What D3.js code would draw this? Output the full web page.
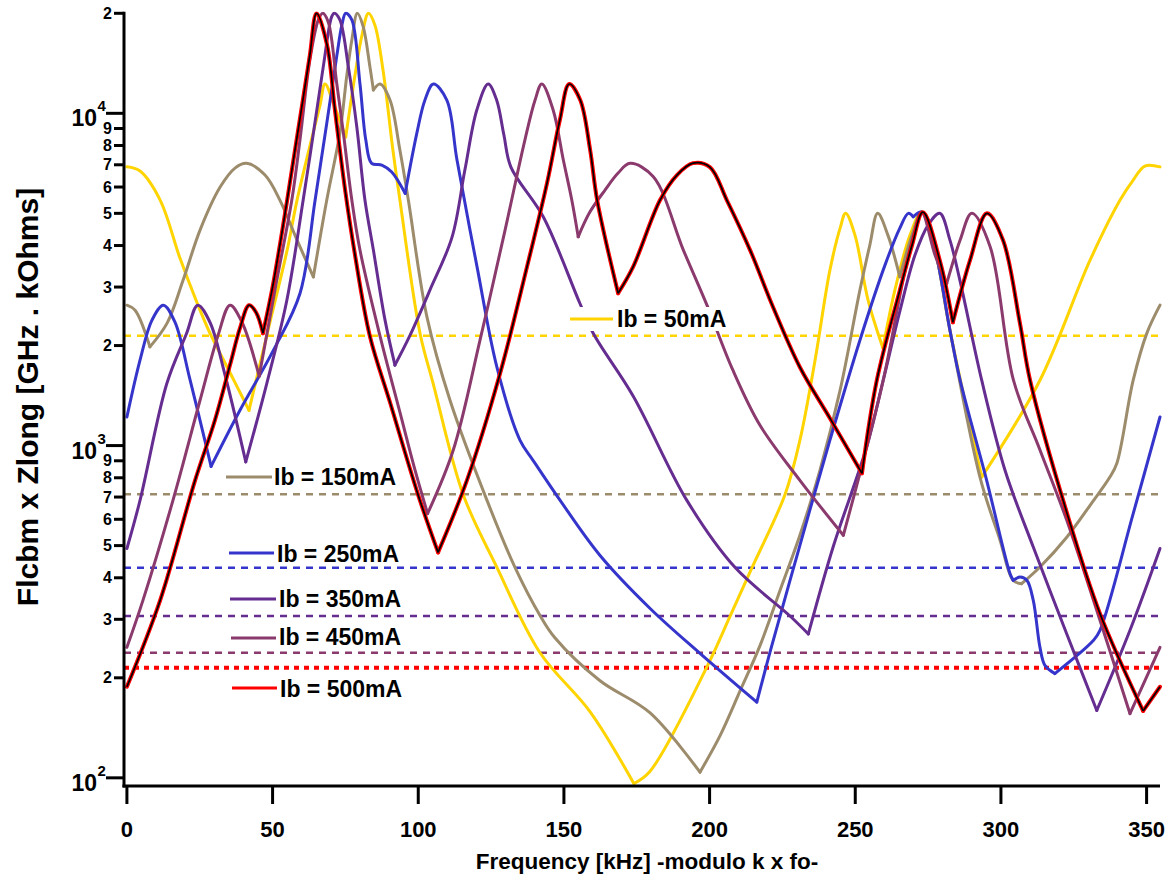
<!DOCTYPE html>
<html><head><meta charset="utf-8">
<script src="https://cdn.jsdelivr.net/npm/d3@7"></script>
<style>
body{margin:0;background:#fff}
text{font-family:Arial,"Liberation Sans",Helvetica,sans-serif;font-weight:bold;fill:#000}
</style>
</head><body>
<svg id="c" width="1171" height="882"></svg>
<script>
// ---------------- data ----------------
const seriesNames  = ["Ib = 50mA","Ib = 150mA","Ib = 250mA","Ib = 350mA","Ib = 450mA","Ib = 500mA"];
const seriesColors = ["#FFD400","#9C8C6C","#3535CC","#662D91","#8B3A6E","#FF0000"];
const thresholds   = [2140, 714, 429, 307, 238, 214.5];
const xTicks = [0,50,100,150,200,250,300,350];
const yTicks = [100,200,300,400,500,600,700,800,900,1000,2000,3000,4000,5000,6000,7000,8000,9000,10000,20000];

// [kHz, GHz.kOhms]
const ib50 = [[0,6900],[4.5,6703],[11.4,5482],[18.2,3667],[24.0,2701],[28.5,2179],[35.4,1657],[41.9,1277],
 [49.1,2351],[55.0,3876],[58.4,5482],[63.9,8723],[66.3,10593],[68.0,12250],[71.1,10593],[75.1,8485],
 [78.3,13040],[80.7,17210],[82.9,20000],[85.1,18450],[87.9,13500],[91.3,7757],[93.7,5482],[100.6,2179],
 [105.1,1540],[115.4,713],[127.0,430],[141.8,238],[159.0,158],[174.0,96.1],[179.5,104.5],[199.0,215],
 [207.0,306],[214.6,430],[225.9,713],[231.0,1038],[236.2,1807],[241.3,3373],[244.8,4513],[246.7,5007],
 [249.9,4300],[254.4,2739],[259.5,1964],[263.6,2936],[268.8,4300],[272.8,5043],[277.4,3876],[282.5,2225],
 [293.4,804],[313.4,1573],[330.6,3614],[340.9,5482],[345.4,6298],[349.4,6939],[354.6,6900]];
const ib150 = [[0,2646],[2.8,2556],[7.9,1982],[13.8,2336],[19.3,3148],[25.1,4452],[32.0,5998],[37.1,6841],
 [41.1,7070],[47.4,6520],[52.5,5482],[58.4,4154],[64.0,3219],[68.6,5482],[73.1,8723],[75.5,13040],
 [77.2,16630],[79.1,20000],[81.1,18230],[83.4,13820],[84.6,11755],[86.9,12250],[90.3,10966],[93.7,7757],
 [96.6,5482],[103.0,2435],[110.9,1369],[123.6,684],[133.2,430],[141.8,308],[146.9,264],[162.4,196],
 [179.5,157],[196.7,104],[203.6,134],[210.5,183],[217.3,250],[224.2,367],[231.0,537],[237.9,843],
 [244.8,1468],[251.6,2936],[255.0,4012],[257.7,5000],[261.2,4300],[265.3,3219],[269.5,4300],[272.8,5043],
 [277.4,3876],[282.5,2225],[292.8,804],[299.7,519],[304.2,393],[307.1,384],[313.4,431],[322.6,530],
 [330.6,661],[337.4,804],[339.8,885],[345.4,1573],[350.1,2180],[354.6,2646]];
const ib250 = [[0,1219],[4.5,1807],[8.6,2385],[12.5,2646],[16.5,2351],[21.7,1573],[28.9,866],[38.8,1277],
 [50.3,1937],[59.4,2869],[64.6,5482],[68.6,9330],[72.0,14810],[73.8,18450],[75.1,20000],[77.2,19100],
 [80.0,12250],[82.0,8309],[84.0,7070],[87.5,6988],[90.9,6657],[95.5,5741],[99.5,8706],[102.3,10966],
 [105.2,12250],[109.8,10966],[113.3,7233],[120.2,3444],[127.0,1721],[134.9,1038],[139.4,903],[148.7,684],
 [162.4,467],[179.5,324],[196.7,237],[216.2,169],[220.9,242],[231.0,501],[241.3,1038],[251.6,2076],
 [260.2,3492],[265.3,4513],[268.2,5000],[269.9,4883],[272.8,5043],[277.4,3876],[282.5,2225],[286.0,1573],
 [295.1,786],[303.1,412],[304.2,393],[306.6,402],[308.9,393],[311.1,342],[313.4,247],[315.1,218],
 [318.5,206],[331.7,259],[334.0,278],[345.4,624],[354.6,1219]];
const ib350 = [[0,490],[4.5,684],[13.7,1537],[20.5,2179],[24.3,2646],[28.5,2351],[33.7,1628],[40.8,893],
 [48.0,1537],[54.9,2739],[60.5,5482],[64.0,8706],[67.4,13820],[70.3,19540],[71.2,20000],[73.1,19100],
 [76.0,13820],[78.9,9112],[81.7,5482],[84.6,3876],[88.6,2385],[92.0,1746],[97.2,2149],[104.0,2936],
 [111.6,4241],[116.0,6749],[120.1,10232],[124.0,12250],[126.9,10966],[129.4,8603],[131.8,6891],
 [142.9,4883],[155.5,2677],[160.1,2174],[173.8,1408],[192.2,684],[208.7,430],[227.6,307],[233.9,271],
 [242.4,495],[253.9,990],[259.6,1573],[265.4,2556],[270.5,3743],[275.0,4609],[279.0,5000],[282.5,4154],
 [285.9,3148],[293.4,1573],[301.4,843],[311.1,495],[322.6,271],[332.9,159.5],[344.3,278],[354.6,490]];
const ib450 = [[0,247],[5.5,342],[15.8,684],[25.1,1369],[31.3,2149],[35.4,2646],[39.5,2351],[45.4,1617],
 [50.8,2936],[56.6,5482],[59.4,8309],[62.8,14470],[65.7,19100],[67.2,20000],[69.1,18840],[72.0,12340],
 [74.3,8723],[77.2,5482],[80.0,3876],[86.8,2149],[93.7,1260],[98.9,843],[103.2,624],[112.0,968],
 [121.2,2076],[129.8,4452],[136.6,8309],[140.1,10966],[142.4,12250],[146.3,10232],[149.8,7233],
 [152.7,5482],[154.9,4250],[158.9,5043],[164.1,5875],[168.6,6611],[172.7,7070],[180.7,6442],[191.0,3876],
 [199.1,2646],[208.0,1686],[217.3,1151],[231.0,786],[245.9,537],[251.6,825],[259.6,1573],[267.1,3373],
 [270.5,4452],[272.8,5043],[277.4,3743],[281.4,3076],[286.0,4154],[290.0,5000],[296.3,3965],[304.3,1573],
 [313.3,975],[322.6,596],[334.0,298],[344.3,156],[354.6,247]];
const ib500 = [[0,188],[11.4,342],[23.4,786],[30.2,1192],[35.4,1750],[38.8,2256],[41.9,2646],[44.3,2520],
 [46.7,2179],[49.8,2936],[52.5,4012],[55.0,5482],[57.7,7757],[60.4,10966],[62.8,14980],[65.1,20000],
 [68.7,16060],[71.4,10232],[74.9,5875],[78.3,3743],[83.4,2134],[90.3,1350],[99.9,713],[106.8,477],
 [116.7,786],[128.1,1651],[137.3,3444],[144.2,6166],[148.6,9546],[151.8,12250],[155.6,10966],[159.0,7757],
 [161.4,5482],[168.6,2875],[173.7,3444],[183.0,5482],[188.8,6520],[194.3,7080],[200.1,6891],[205.9,5482],
 [213.9,3876],[221.8,2609],[231.0,1721],[241.3,1209],[252.3,825],[257.4,1573],[265.3,2936],[269.5,4012],
 [273.2,5040],[279.0,3614],[283.5,2351],[289.4,3614],[295.2,5000],[300.7,4154],[306.5,2340],[310.0,1573],
 [322.7,625],[334.0,312],[348.8,159],[354.6,188]];
const seriesData = [ib50, ib150, ib250, ib350, ib450, ib500];

// ---------------- layout ----------------
const svg = d3.select("#c");
const x = d3.scaleLinear().domain([-1.0, 354.6]).range([124, 1160]);
const y = d3.scaleLog().domain([94.5, 20000]).range([786, 13.3]);

svg.append("defs").append("clipPath").attr("id","clip")
  .append("rect").attr("x",124).attr("y",11.5).attr("width",1040).attr("height",776);

// dashed threshold lines
const gDash = svg.append("g");
thresholds.forEach((t,i)=>{
  gDash.append("line")
    .attr("x1", x(-1)).attr("x2", x(354.6)).attr("y1", y(t)).attr("y2", y(t))
    .attr("stroke", seriesColors[i])
    .attr("stroke-width", i===5 ? 4 : 2.6)
    .attr("stroke-dasharray", i===5 ? "5,5" : "7,6");
});

// curves (split at local minima so cusps stay sharp)
function segments(pts){
  const segs=[]; let cur=[pts[0]];
  for(let i=1;i<pts.length;i++){
    cur.push(pts[i]);
    if(i<pts.length-1 && pts[i][1]<pts[i-1][1] && pts[i][1]<pts[i+1][1]){
      segs.push(cur); cur=[pts[i]];
    }
  }
  segs.push(cur);
  return segs;
}
const line = d3.line().x(d=>x(d[0])).y(d=>y(d[1])).curve(d3.curveCatmullRom.alpha(0.5));
const gCurves = svg.append("g").attr("clip-path","url(#clip)");
seriesData.forEach((pts,i)=>{
  const segs = segments(pts);
  const g = gCurves.append("g");
  g.selectAll("path.s").data(segs).join("path").attr("class","s")
    .attr("d", line).attr("fill","none")
    .attr("stroke", seriesColors[i]).attr("stroke-width", i===5?4:3)
    .attr("stroke-linejoin","round").attr("stroke-linecap","round");
  if(i===5){
    g.selectAll("path.k").data(segs).join("path").attr("class","k")
      .attr("d", line).attr("fill","none")
      .attr("stroke","#000").attr("stroke-width",1.7)
      .attr("stroke-linejoin","round");
  }
});

// axes
const gAx = svg.append("g");
gAx.append("line").attr("x1",124).attr("x2",124).attr("y1",y(20000)-1.5).attr("y2",787.5)
  .attr("stroke","#000").attr("stroke-width",3);
gAx.append("line").attr("x1",122.5).attr("x2",1160).attr("y1",786).attr("y2",786)
  .attr("stroke","#000").attr("stroke-width",3);

xTicks.forEach(v=>{
  gAx.append("line").attr("x1",x(v)).attr("x2",x(v)).attr("y1",786).attr("y2",804)
    .attr("stroke","#000").attr("stroke-width",3);
  gAx.append("text").attr("x",x(v)).attr("y",837).attr("text-anchor","middle")
    .attr("font-size",22).text(v);
});

yTicks.forEach(v=>{
  const e = Math.round(Math.log10(v));
  const major = Math.abs(Math.log10(v)-e) < 1e-9;
  const yy = y(v);
  gAx.append("line").attr("x1", major?106:114).attr("x2",124).attr("y1",yy).attr("y2",yy)
    .attr("stroke","#000").attr("stroke-width",3);
  if(major){
    gAx.append("text").attr("x",97).attr("y",yy+13).attr("text-anchor","end")
      .attr("font-size",23).text("10");
    gAx.append("text").attr("x",97.5).attr("y",yy-2).attr("font-size",15).text(e);
  } else {
    const d = Math.round(v/Math.pow(10,Math.floor(Math.log10(v))));
    gAx.append("text").attr("x",112).attr("y",yy+5.5).attr("text-anchor","end")
      .attr("font-size",16).text(d);
  }
});

// axis titles
svg.append("text").attr("x",647).attr("y",869).attr("text-anchor","middle")
  .attr("font-size",22.5).text("Frequency [kHz] -modulo k x fo-");
svg.append("text").attr("transform","translate(38,397) rotate(-90)").attr("text-anchor","middle")
  .attr("font-size",30).text("Flcbm x Zlong [GHz . kOhms]");

// legend entries
const legendPos = [[570,613,319,617,327],[226,272,477,274,485],[229,274,553,277,562],
                   [230,276,599,279,607],[231,276,638,279,645],[232,277,688,280,697]];
const gLeg = svg.append("g");
legendPos.forEach((p,i)=>{
  const g = gLeg.append("g");
  const bg = g.append("rect").attr("fill","#fff");
  g.append("line").attr("x1",p[0]).attr("x2",p[1]).attr("y1",p[2]).attr("y2",p[2])
    .attr("stroke",seriesColors[i]).attr("stroke-width",3);
  const t = g.append("text").attr("x",p[3]).attr("y",p[4]).attr("font-size",23).text(seriesNames[i]);
  const b = t.node().getBBox();
  bg.attr("x",p[0]-3).attr("y",b.y+1).attr("width",b.x+b.width-p[0]+5).attr("height",b.height-2);
});
</script>
</body></html>
